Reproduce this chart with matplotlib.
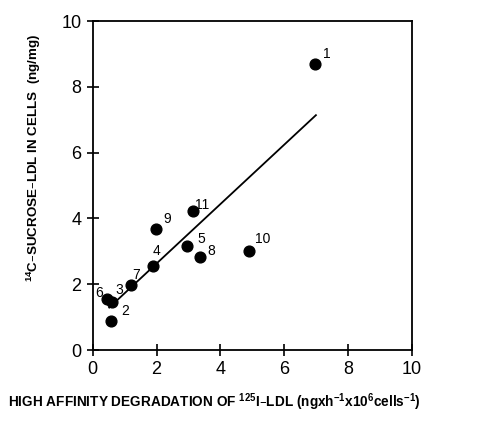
import matplotlib.pyplot as plt

# degradation (x) and 14C-sucrose-LDL content (y) per cell line
labels = ['1', '2', '3', '4', '5', '6', '7', '8', '9', '10', '11']
x_vals = [6.97, 0.57, 0.62, 1.90, 2.95, 0.45, 1.19, 3.36, 1.98, 4.90, 3.13]
y_vals = [8.71, 0.88, 1.46, 2.54, 3.17, 1.55, 1.97, 2.83, 3.68, 3.02, 4.22]

# label offsets in pixels (dx, dy) from each point
label_dx = [11.7, 14.7, 6.7, 2.7, 14.3, -7.7, 5.3, 11.7, 11.7, 13.7, 9.7]
label_dy = [9.3, 9.7, 12.0, 15.0, 6.7, 5.7, 10.3, 6.0, 9.7, 12.0, 6.0]

# regression line end points
line_x = [0.52, 6.99]
line_y = [1.29, 7.14]

ticks = [0, 2, 4, 6, 8, 10]

plt.rcParams['font.family'] = ['Liberation Sans', 'DejaVu Sans']
plt.rcParams['mathtext.default'] = 'regular'

fig = plt.figure(figsize=(4.9, 4.22), dpi=100)
ax = fig.add_axes([0.189, 0.1706, 0.652, 0.7794])

ax.plot(line_x, line_y, color='black', lw=1.3)
ax.scatter(x_vals, y_vals, s=60, color='black', zorder=3)

px = 0.72  # points per pixel at 100 dpi
for lab, x, y, dx, dy in zip(labels, x_vals, y_vals, label_dx, label_dy):
    ax.annotate(lab, (x, y), xytext=(dx * px, dy * px), textcoords='offset points',
                ha='center', va='center', fontsize=10)

ax.set_xlim(0, 10)
ax.set_ylim(0, 10)
ax.set_xticks(ticks)
ax.set_yticks(ticks)
ax.tick_params(direction='inout', length=8, width=1.2, labelsize=13, pad=4)
for sp in ax.spines.values():
    sp.set_linewidth(1.3)

ax.set_ylabel('$^{14}$C–SUCROSE–LDL IN CELLS  (ng/mg)', fontsize=9.6,
              fontweight='bold')
ax.yaxis.set_label_coords(-0.155, 0.583)
ax.set_xlabel('HIGH AFFINITY DEGRADATION OF $^{125}$I–LDL (ngxh$^{-1}$x10$^{6}$cells$^{-1}$)',
              fontsize=9.8, fontweight='bold')
ax.xaxis.set_label_coords(0.38, -0.125)

fig.savefig('out.png', dpi=100)
